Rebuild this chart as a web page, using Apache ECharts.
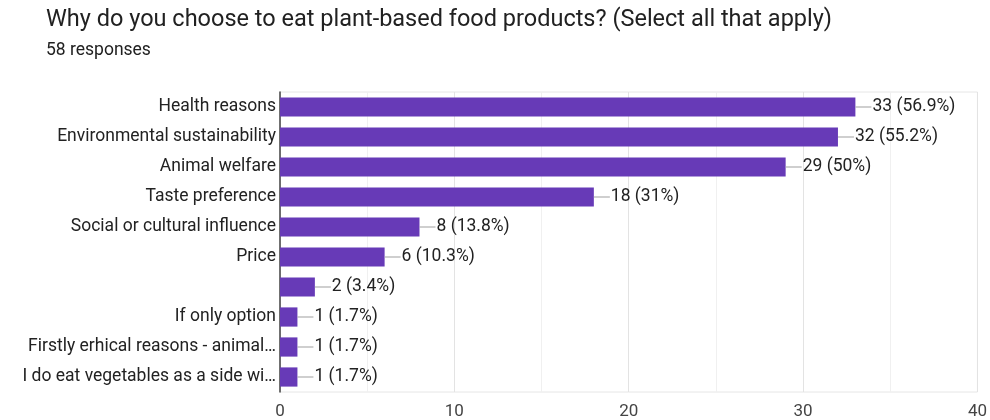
<!DOCTYPE html>
<html>
<head>
<meta charset="utf-8">
<script src="https://cdn.jsdelivr.net/npm/echarts@6/dist/echarts.min.js"></script>
<style>
  html, body { margin: 0; padding: 0; background: #fff; }
  #chart { width: 990px; height: 420px; }
</style>
</head>
<body>
<div id="chart"></div>
<script>
var categories = [
  'Health reasons',
  'Environmental sustainability',
  'Animal welfare',
  'Taste preference',
  'Social or cultural influence',
  'Price',
  '',
  'If only option',
  'Firstly erhical reasons - animal\u2026',
  'I do eat vegetables as a side wi\u2026'
];
var counts = [33, 32, 29, 18, 8, 6, 2, 1, 1, 1];
var percents = ['56.9%', '55.2%', '50%', '31%', '13.8%', '10.3%', '3.4%', '1.7%', '1.7%', '1.7%'];
var xTicks = [0, 10, 20, 30, 40];

var chart = echarts.init(document.getElementById('chart'));

var option = {
  backgroundColor: '#fff',
  animation: false,
  textStyle: { fontFamily: 'Roboto' },
  title: {
    text: 'Why do you choose to eat plant-based food products? (Select all that apply)',
    subtext: '58 responses',
    left: 41,
    top: 3,
    itemGap: 10,
    textStyle: { fontSize: 23.5, fontWeight: 'normal', color: '#212121', fontFamily: 'Roboto' },
    subtextStyle: { fontSize: 17.5, color: '#212121', fontFamily: 'Roboto' }
  },
  grid: {
    left: 280,
    right: 10,
    top: 92,
    bottom: 28,
    show: true,
    borderColor: '#e6e6e6',
    borderWidth: 1
  },
  xAxis: {
    type: 'value',
    min: xTicks[0],
    max: xTicks[xTicks.length - 1],
    interval: 10,
    axisLine: { show: false },
    axisTick: { show: false },
    axisLabel: { fontSize: 17, color: '#444', margin: 11 },
    splitLine: { lineStyle: { color: '#e3e3e3' } },
    minorTick: { show: false, splitNumber: 2 },
    minorSplitLine: { show: true, lineStyle: { color: '#f0f0f0' } }
  },
  yAxis: {
    type: 'category',
    data: categories,
    inverse: true,
    axisLine: { show: true, lineStyle: { color: '#444', width: 1.5 } },
    axisTick: { show: false },
    axisLabel: { fontSize: 17.5, color: '#222', margin: 4 }
  },
  series: [{
    type: 'bar',
    data: counts,
    barCategoryGap: '36%',
    itemStyle: { color: '#673ab7' },
    label: {
      show: true,
      position: 'right',
      distance: 0,
      formatter: function (p) {
        return '{l|}{t|' + p.value + ' (' + percents[p.dataIndex] + ')}';
      },
      rich: {
        l: { width: 16, height: 1, backgroundColor: '#9e9e9e' },
        t: { fontSize: 17.5, color: '#222', fontFamily: 'Roboto', padding: [0, 0, 0, 1] }
      }
    }
  }]
};

chart.setOption(option);
</script>
</body>
</html>
